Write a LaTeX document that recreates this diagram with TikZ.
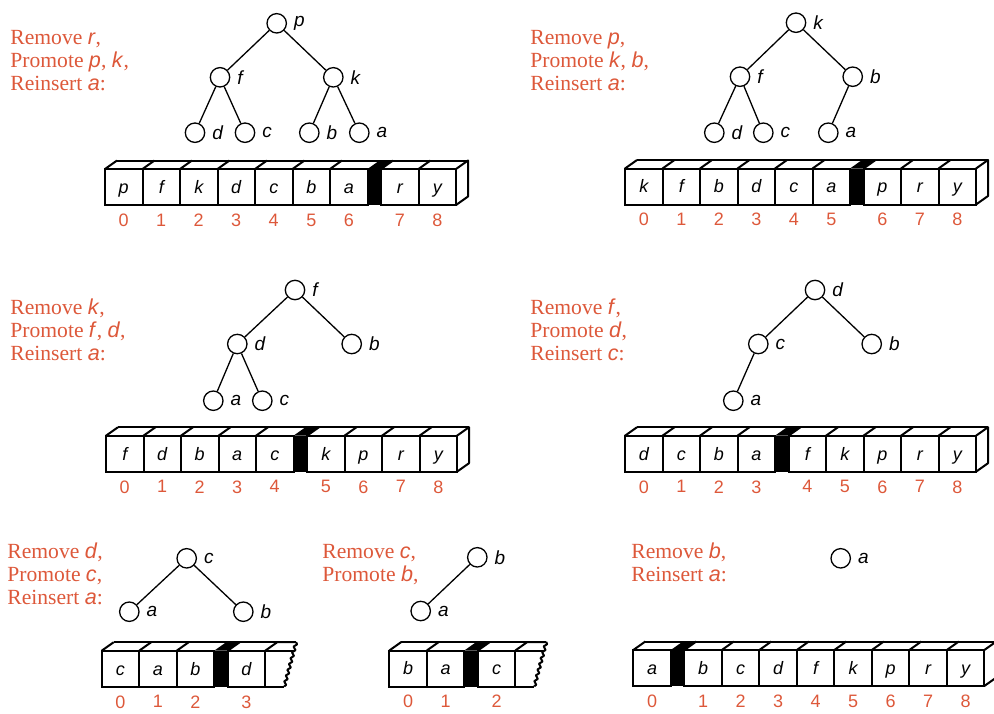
\documentclass[tikz,border=0pt]{standalone}
\usepackage{fontspec}
\setmainfont{Liberation Serif}
\setsansfont{Liberation Sans}
\usepackage{tikz}
\usetikzlibrary{positioning, decorations.pathmorphing}

\definecolor{steporange}{RGB}{221,88,58}

\newcommand\lbl[1]{\textsf{\textit{#1}}}

\tikzset{
  vertex/.style={circle, draw, fill=white, line width=0.65pt, minimum size=9.7pt, inner sep=0pt,
    label distance=0pt, label={[font=\fontsize{9.5}{11}\selectfont\sffamily\itshape]right:#1}},
  treeedge/.style={line width=0.65pt},
  cellbox/.style={draw, line width=1pt, minimum width=18.75pt, minimum height=18pt,
    inner sep=0pt, outer sep=0pt, anchor=north west, text height=6.3pt, text depth=0pt,
    font=\fontsize{9}{11}\selectfont\sffamily\itshape},
  topface/.style={draw, line width=1pt, line join=round},
  cellnum/.style={inner sep=0pt, text=steporange, font=\fontsize{9}{11}\selectfont\sffamily},
  steptext/.style={anchor=north west, inner sep=0pt, align=left, text=steporange,
    font=\fontsize{10.8}{11.5}\selectfont},
}

% #1 name, #2 left x, #3 top y, #4 cells before the gap, #5 cells after it
\newcommand\heaprow[5]{%
  \foreach \v [count=\i from 0] in {#4}{
    \node[cellbox] (#1-\i) at ({#2+37.5*\i},#3) {\v};
    \node[cellnum, below=4.2pt of #1-\i] (#1-n\i) {\i};
    \draw[topface] (#1-\i.north west) -- ++(12,-8.5);
    \xdef\ncount{\i}
  }
  \pgfmathsetmacro\gapx{#2+37.5*(\ncount+1)}
  \fill (\gapx,#3) rectangle ++(13.5,36);
  \fill (\gapx,#3) -- ++(12,-8.5) -- ++(13.5,0) -- ++(-12,8.5) -- cycle;
  \foreach \v [count=\j from 0] in {#5}{
    \pgfmathtruncatemacro\cellno{\ncount+1+\j}
    \node[cellbox] (#1-\cellno) at ({\gapx+13.5+37.5*\j},#3) {\v};
    \node[cellnum, below=4.2pt of #1-\cellno] (#1-n\cellno) {\cellno};
    \draw[topface] (#1-\cellno.north west) -- ++(12,-8.5);
    \xdef\rowend{\cellno}
  }
  \pgfmathsetmacro\rowendx{\gapx+13.5+37.5*(\rowend-\ncount)}
  \draw[topface] ({#2+12},{#3-8.5}) -- ({\rowendx+12},{#3-8.5});
}
% right end of a row
\newcommand\sideface[1]{%
  \draw[topface] (\rowendx,#1) -- ++(12,-8.5) -- ++(0,36) -- ++(-12,8.5);
}
% torn right end of a row
\newcommand\tornend[1]{%
  \draw[topface] (\rowendx,#1) -- ++(12,-8.5) -- ++(19,0);
  \draw[topface] (\rowendx,#1) -- ++(28.7,0);
  \draw[topface] (\rowendx,{#1+36}) -- ++(19,0);
  \draw[topface, decorate, decoration={snake, segment length=3pt, amplitude=0.7pt}]
    ({\rowendx+31},{#1-8.5}) -- ({\rowendx+19},{#1+36});
}

\begin{document}
\begin{tikzpicture}[x=0.5pt, y=-0.5pt]
\useasboundingbox (0,0) rectangle (994,713);

% remove r
\node[steptext] (say1) at (10,30) {Remove \lbl{r},\\Promote \lbl{p}, \lbl{k},\\Reinsert \lbl{a}:};
\node[vertex=p] (p1) at (276.7,23.3) {};
\node[vertex=f] (f1) at (220,77.3) {};
\node[vertex=k] (k1) at (333.3,77.3) {};
\node[vertex=d] (d1) at (195,132.7) {};
\node[vertex=c] (c1) at (245,132.7) {};
\node[vertex=b] (b1) at (309.3,132.7) {};
\node[vertex=a] (a1) at (359.3,132.7) {};
\draw[treeedge] (p1) -- (f1);
\draw[treeedge] (p1) -- (k1);
\draw[treeedge] (f1) -- (d1);
\draw[treeedge] (f1) -- (c1);
\draw[treeedge] (k1) -- (b1);
\draw[treeedge] (k1) -- (a1);
\heaprow{r1}{105}{169}{p,f,k,d,c,b,a}{r,y}
\sideface{169}

% remove p
\node[steptext] (say2) at (530,30) {Remove \lbl{p},\\Promote \lbl{k}, \lbl{b},\\Reinsert \lbl{a}:};
\node[vertex=k] (k2) at (796,22.7) {};
\node[vertex=f] (f2) at (740,76.7) {};
\node[vertex=b] (b2) at (852.7,76.7) {};
\node[vertex=d] (d2) at (714.3,132.7) {};
\node[vertex=c] (c2) at (763.3,132.7) {};
\node[vertex=a] (a2) at (828.3,132.7) {};
\draw[treeedge] (k2) -- (f2);
\draw[treeedge] (k2) -- (b2);
\draw[treeedge] (f2) -- (d2);
\draw[treeedge] (f2) -- (c2);
\draw[treeedge] (b2) -- (a2);
\heaprow{r2}{625}{168.5}{k,f,b,d,c,a}{p,r,y}
\sideface{168.5}

% remove k
\node[steptext] (say3) at (10,298) {Remove \lbl{k},\\Promote \lbl{f}, \lbl{d},\\Reinsert \lbl{a}:};
\node[vertex=f] (f3) at (295,290) {};
\node[vertex=d] (d3) at (237.3,344) {};
\node[vertex=b] (b3) at (351.7,344) {};
\node[vertex=a] (a3) at (213.3,400.7) {};
\node[vertex=c] (c3) at (262.3,400.7) {};
\draw[treeedge] (f3) -- (d3);
\draw[treeedge] (f3) -- (b3);
\draw[treeedge] (d3) -- (a3);
\draw[treeedge] (d3) -- (c3);
\heaprow{r3}{106}{435.7}{f,d,b,a,c}{k,p,r,y}
\sideface{435.7}

% remove f
\node[steptext] (say4) at (530,298) {Remove \lbl{f},\\Promote \lbl{d},\\Reinsert \lbl{c}:};
\node[vertex=d] (d4) at (815,290) {};
\node[vertex=c] (c4) at (758.3,344) {};
\node[vertex=b] (b4) at (871.7,344) {};
\node[vertex=a] (a4) at (733.3,400.7) {};
\draw[treeedge] (d4) -- (c4);
\draw[treeedge] (d4) -- (b4);
\draw[treeedge] (c4) -- (a4);
\heaprow{r4}{625}{435.7}{d,c,b,a}{f,k,p,r,y}
\sideface{435.7}

% remove d
\node[steptext] (say5) at (7,542) {Remove \lbl{d},\\Promote \lbl{c},\\Reinsert \lbl{a}:};
\node[vertex=c] (c5) at (186.7,558.3) {};
\node[vertex=a] (a5) at (129.3,611.7) {};
\node[vertex=b] (b5) at (243.3,611.7) {};
\draw[treeedge] (c5) -- (a5);
\draw[treeedge] (c5) -- (b5);
\heaprow{r5}{101.7}{650.7}{c,a,b}{d}
\tornend{650.7}

% remove c
\node[steptext] (say6) at (322,544) {Remove \lbl{c},\\Promote \lbl{b},};
\node[vertex=b] (b6) at (477.3,557.3) {};
\node[vertex=a] (a6) at (420.7,611) {};
\draw[treeedge] (b6) -- (a6);
\heaprow{r6}{389.3}{650.5}{b,a}{c}
\tornend{650.5}

% remove b
\node[steptext] (say7) at (631,542.5) {Remove \lbl{b},\\Reinsert \lbl{a}:};
\node[vertex=a] (a7) at (840.7,558.3) {};
\heaprow{r7}{633.3}{650}{a}{b,c,d,f,k,p,r,y}
\sideface{650}
\end{tikzpicture}
\end{document}
